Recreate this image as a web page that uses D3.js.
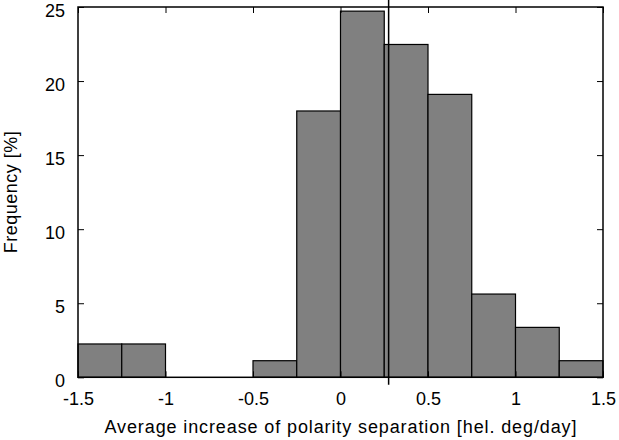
<!DOCTYPE html>
<html><head><meta charset="utf-8">
<script src="https://cdn.jsdelivr.net/npm/d3@7"></script>
<style>body{margin:0;background:#fff}svg{display:block}text{font-family:"Liberation Sans",Arial,sans-serif}</style>
</head><body><svg id="c" width="619" height="440"></svg>
<script>
const binStarts = [-1.5,-1.25,-1.0,-0.75,-0.5,-0.25,0.0,0.25,0.5,0.75,1.0,1.25];
const frequency = [2.25,2.25,0,0,1.12,17.98,24.72,22.47,19.10,5.62,3.37,1.12];
const binWidth = 0.25;
const meanValue = 0.275;
const xTicks = [-1.5,-1,-0.5,0,0.5,1,1.5];
const yTicks = [0,5,10,15,20,25];

const svg = d3.select("#c");
const m = {l:78,r:16,t:7,b:62.7};
const W = 619, H = 440;
const x = d3.scaleLinear().domain([-1.5,1.5]).range([m.l, W-m.r]);
const y = d3.scaleLinear().domain([0,25]).range([H-m.b, m.t]);
const fs = 18;
const fmt = d => String(d);

// bars
svg.append("g").selectAll("rect").data(binStarts.map((s,i)=>({s,v:frequency[i]})).filter(d=>d.v>0))
  .join("rect")
  .attr("x", d=>x(d.s)).attr("width", d=>x(d.s+binWidth)-x(d.s))
  .attr("y", d=>y(d.v)).attr("height", d=>y(0)-y(d.v))
  .attr("fill","#808080").attr("stroke","#000").attr("stroke-width",1.2);

// axes with inward ticks
const tl = 6;
const gx = svg.append("g").attr("transform",`translate(0,${y(0)})`)
  .call(d3.axisBottom(x).tickValues(xTicks).tickSize(-tl).tickPadding(15).tickFormat(fmt));
const gxt = svg.append("g").attr("transform",`translate(0,${y(25)})`)
  .call(d3.axisTop(x).tickValues(xTicks).tickSize(-tl).tickFormat(""));
const gy = svg.append("g").attr("transform",`translate(${x(-1.5)},0)`)
  .call(d3.axisLeft(y).tickValues(yTicks).tickSize(-tl).tickPadding(13).tickFormat(fmt));
const gyr = svg.append("g").attr("transform",`translate(${x(1.5)},0)`)
  .call(d3.axisRight(y).tickValues(yTicks).tickSize(-tl).tickFormat(""));
[gx,gxt,gy,gyr].forEach(g=>{
  g.select(".domain").remove();
  g.selectAll("line").attr("stroke","#000").attr("stroke-width",1);
  g.selectAll("text").attr("font-size",fs).attr("fill","#000").attr("font-family","Liberation Sans, Arial, sans-serif");
});
gy.selectAll("text").attr("dy","0.5em");
// frame
svg.append("rect").attr("x",x(-1.5)).attr("y",y(25)).attr("width",x(1.5)-x(-1.5)).attr("height",y(0)-y(25))
  .attr("fill","none").attr("stroke","#000").attr("stroke-width",1.5);

// mean line
svg.append("line").attr("x1",x(meanValue)).attr("x2",x(meanValue))
  .attr("y1",y(25.5)).attr("y2",y(-0.5)).attr("stroke","#000").attr("stroke-width",1.5);

// labels
svg.append("text").attr("x",(x(-1.5)+x(1.5))/2).attr("y",433).attr("text-anchor","middle")
  .attr("font-size",fs).attr("textLength",472).attr("lengthAdjust","spacing")
  .text("Average increase of polarity separation [hel. deg/day]");
svg.append("text").attr("transform",`translate(17,${(y(0)+y(25))/2}) rotate(-90)`).attr("text-anchor","middle")
  .attr("font-size",fs).attr("textLength",122).attr("lengthAdjust","spacing")
  .text("Frequency [%]");
</script></body></html>
